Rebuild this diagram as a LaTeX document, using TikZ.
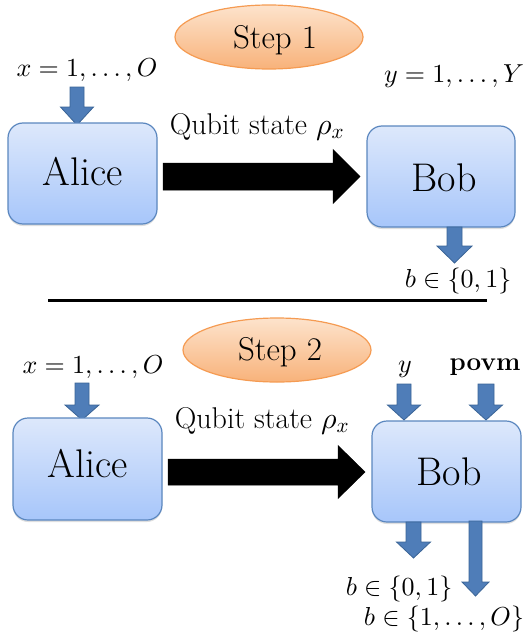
\documentclass[tikz,border=0pt]{standalone}
\DeclareFontFamily{OML}{cmm}{\skewchar\font'177}
\DeclareFontShape{OML}{cmm}{m}{it}{<->cmmi10}{}
\DeclareFontFamily{OMS}{cmsy}{\skewchar\font'60}
\DeclareFontShape{OMS}{cmsy}{m}{n}{<->cmsy10}{}
\DeclareFontFamily{OT1}{cmr}{\hyphenchar\font45}
\DeclareFontShape{OT1}{cmr}{m}{n}{<->cmr10}{}
\usetikzlibrary{shadows}
\definecolor{boxtop}{HTML}{DDE8FB}
\definecolor{boxbot}{HTML}{A7C6FA}
\definecolor{boxline}{HTML}{5B87BF}
\definecolor{elltop}{HTML}{FDE3CC}
\definecolor{ellbot}{HTML}{F8B27A}
\definecolor{ellline}{HTML}{F59B52}
\definecolor{arrfill}{HTML}{4F7DB8}
\definecolor{arrline}{HTML}{3A6496}
\tikzset{
  party/.style={draw=boxline, line width=1.2pt, rounded corners=15pt,
    top color=boxtop, bottom color=boxbot,
    drop shadow={shadow xshift=0pt, shadow yshift=-2pt, opacity=0.25}},
  stepell/.style={draw=ellline, line width=1.2pt, top color=elltop, bottom color=ellbot},
  bluearrow/.style={fill=arrfill, draw=arrline, line width=0.8pt, line join=miter},
  blackarrow/.style={fill=black, draw=black, line width=0.5pt},
  lbl/.style={anchor=base, inner sep=0pt},
  mathlbl/.style={lbl, font=\fontsize{26}{30}\selectfont},
  povmlbl/.style={lbl, font=\fontsize{26}{30}\selectfont\bfseries},
  qlbl/.style={lbl, font=\fontsize{30}{34}\selectfont},
  namelbl/.style={lbl, font=\fontsize{40}{44}\selectfont},
  steplbl/.style={lbl, font=\fontsize{33}{36}\selectfont},
}
% down block arrow: cx, ytop, ytip, half shaft, half head, head length
\newcommand{\downblock}[6]{%
  \filldraw[bluearrow] (#1-#4,#2) -- (#1+#4,#2) -- (#1+#4,#3-#6) -- (#1+#5,#3-#6)
    -- (#1,#3) -- (#1-#5,#3-#6) -- (#1-#4,#3-#6) -- cycle;}
% right block arrow: xstart, cy, xtip, half shaft, half head, head start x
\newcommand{\rightblock}[6]{%
  \filldraw[blackarrow] (#1,#2-#4) -- (#6,#2-#4) -- (#6,#2-#5) -- (#3,#2)
    -- (#6,#2+#5) -- (#6,#2+#4) -- (#1,#2+#4) -- cycle;}
\begin{document}
\begin{tikzpicture}[x=1pt,y=-1pt]
\useasboundingbox (0,0) rectangle (530,637);
% ---------- Step 1 ----------
\draw[stepell] (269,37) ellipse [x radius=94, y radius=32];
\node[steplbl] (s1) at (275,48) {Step 1};
\node[mathlbl] (x1) at (87,76) {$x=1,\ldots,O$};
\node[mathlbl] (y1) at (454,82) {$y=1,\ldots,Y$};
\downblock{77}{87}{125}{7}{16.5}{18}
\draw[party] (8,123) rectangle (157,224);
\node[namelbl] (alice1) at (83,185) {Alice};
\node[qlbl] (q1) at (257,134) {Qubit state $\rho_x$};
\rightblock{163}{176.5}{360}{13.5}{27}{333}
\draw[party] (367,126) rectangle (515,227);
\node[namelbl] (bob1) at (444,191) {Bob};
\downblock{454.5}{227}{263}{7.5}{17.5}{17}
\node[mathlbl] (b1) at (458,287) {$b\in\{0,1\}$};
% separator
\draw[line width=3pt] (48,300) -- (487,300);
% ---------- Step 2 ----------
\draw[stepell] (277,350) ellipse [x radius=94, y radius=32];
\node[steplbl] (s2) at (280,360) {Step 2};
\node[mathlbl] (x2) at (93,373) {$x=1,\ldots,O$};
\downblock{82}{383}{420}{7}{17}{15}
\draw[party] (13,418) rectangle (162,520);
\node[namelbl] (alice2) at (88,477) {Alice};
\node[qlbl] (q2) at (262,428) {Qubit state $\rho_x$};
\rightblock{168}{472}{365}{13}{26.5}{338}
\node[mathlbl] (y2) at (405,372) {$y$};
\node[povmlbl] (povm) at (485,370) {povm};
\downblock{404}{384}{420}{7}{16.5}{15}
\downblock{486}{384}{420}{8}{16.5}{15}
\draw[party] (372,421) rectangle (521,522);
\node[namelbl] (bob2) at (449,485) {Bob};
\downblock{413.5}{522}{558}{7.5}{17}{16}
\downblock{475.5}{521}{596}{6.5}{13.5}{14}
\node[mathlbl] (b2) at (399,595) {$b\in\{0,1\}$};
\node[mathlbl] (b3) at (444,625) {$b\in\{1,\ldots,O\}$};
\end{tikzpicture}
\end{document}
